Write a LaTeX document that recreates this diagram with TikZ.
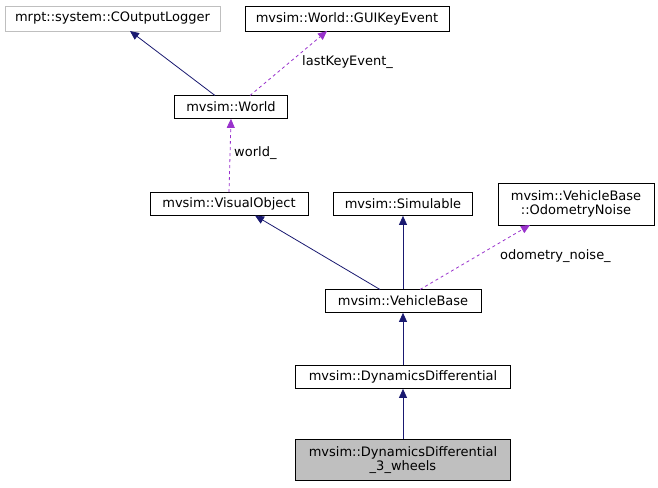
\documentclass[tikz,border=0pt]{standalone}
\usepackage{fontspec}
\setmainfont{DejaVu Sans}
\usetikzlibrary{arrows.meta}
\begin{document}
\begin{tikzpicture}[x=1pt,y=-1pt,
  box/.style={draw=black,fill=white,line width=0.7pt,inner sep=0pt,font=\fontsize{13}{14.5}\selectfont},
  inh/.style={draw={rgb,255:red,25;green,25;blue,112},line width=0.8pt,-{Triangle[length=9pt,width=8pt]}},
  use/.style={draw={rgb,255:red,153;green,50;blue,204},line width=0.8pt,dashed,-{Triangle[length=9pt,width=8pt]}},
  lbl/.style={font=\fontsize{13}{15}\selectfont,fill=white,inner sep=1pt}]
\useasboundingbox (0,0) rectangle (658,487);
\node[box,draw={rgb,255:red,191;green,191;blue,191},minimum width=215pt,minimum height=25pt] (log) at (112.5,18.5) {mrpt::system::COutputLogger};
\node[box,minimum width=204pt,minimum height=25pt] (gui) at (347,18.5) {mvsim::World::GUIKeyEvent};
\node[box,minimum width=113pt,minimum height=23pt] (world) at (231,107) {mvsim::World};
\node[box,minimum width=158pt,minimum height=23pt] (vis) at (229,204) {mvsim::VisualObject};
\node[box,minimum width=139pt,minimum height=23pt] (sim) at (403,204) {mvsim::Simulable};
\node[box,minimum width=156pt,minimum height=42pt,align=center] (odo) at (576,204) {mvsim::VehicleBase\\::OdometryNoise};
\node[box,minimum width=156pt,minimum height=23pt] (vb) at (403,301) {mvsim::VehicleBase};
\node[box,minimum width=215pt,minimum height=23pt] (dd) at (403,377) {mvsim::DynamicsDifferential};
\node[box,fill={rgb,255:red,191;green,191;blue,191},minimum width=215pt,minimum height=41pt,align=center] (dd3) at (403,460) {mvsim::DynamicsDifferential\\\_3\_wheels};
\draw[inh] (215,95.5) -- (130,31);
\draw[use] (250,95.5) -- (327,31);
\node[lbl,anchor=west] at (301,62) {lastKeyEvent\_};
\draw[use] (vis.north) -- (world.south);
\node[lbl,anchor=west] at (233,153) {world\_};
\draw[inh] (380,289.5) -- (255,215.5);
\draw[inh] (vb.north) -- (sim.south);
\draw[use] (420,289.5) -- (530,225);
\node[lbl,anchor=west] at (499,256) {odometry\_noise\_};
\draw[inh] (dd.north) -- (vb.south);
\draw[inh] (dd3.north) -- (dd.south);
\end{tikzpicture}
\end{document}
